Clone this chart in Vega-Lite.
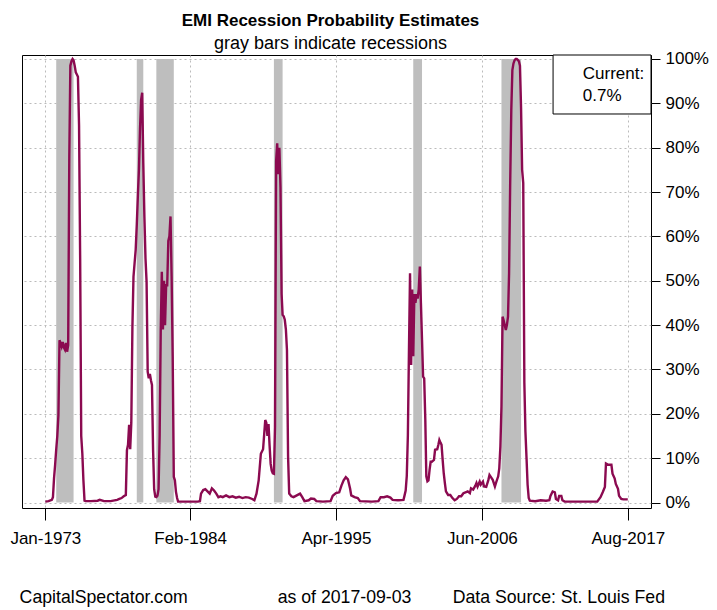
{
  "$schema": "https://vega.github.io/schema/vega-lite/v6.json",
  "autosize": "none",
  "width": 629,
  "height": 453,
  "padding": {"left": 22, "top": 55, "right": 66, "bottom": 102},
  "background": "white",
  "config": {
    "font": "Liberation Sans",
    "view": {"stroke": "black", "strokeWidth": 1}
  },
  "title": {
    "text": "EMI Recession Probability Estimates",
    "subtitle": "gray bars indicate recessions",
    "fontSize": 17,
    "fontWeight": "bold",
    "subtitleFontSize": 18,
    "color": "black",
    "subtitleColor": "black",
    "font": "Liberation Sans",
    "subtitleFont": "Liberation Sans",
    "anchor": "middle",
    "dx": -6,
    "offset": -4,
    "subtitlePadding": 5
  },
  "datasets": {
    "emi": [
      {"date": "1973-01-01", "p": 0.002}, {"date": "1973-04-01", "p": 0.003}, {"date": "1973-07-01", "p": 0.006},
      {"date": "1973-08-01", "p": 0.012}, {"date": "1973-09-01", "p": 0.055}, {"date": "1973-10-01", "p": 0.085},
      {"date": "1973-11-01", "p": 0.12}, {"date": "1973-12-01", "p": 0.15}, {"date": "1974-01-01", "p": 0.197},
      {"date": "1974-02-01", "p": 0.366}, {"date": "1974-03-01", "p": 0.36}, {"date": "1974-04-01", "p": 0.352},
      {"date": "1974-05-01", "p": 0.362}, {"date": "1974-06-01", "p": 0.35}, {"date": "1974-07-01", "p": 0.345},
      {"date": "1974-08-01", "p": 0.36}, {"date": "1974-09-01", "p": 0.34}, {"date": "1974-10-01", "p": 0.355},
      {"date": "1974-11-01", "p": 0.776}, {"date": "1974-12-01", "p": 0.985}, {"date": "1975-01-01", "p": 0.995},
      {"date": "1975-02-01", "p": 1.0}, {"date": "1975-03-01", "p": 0.997}, {"date": "1975-04-01", "p": 0.985},
      {"date": "1975-05-01", "p": 0.97}, {"date": "1975-06-01", "p": 0.965}, {"date": "1975-07-01", "p": 0.96},
      {"date": "1975-08-01", "p": 0.85}, {"date": "1975-09-01", "p": 0.55}, {"date": "1975-10-01", "p": 0.15},
      {"date": "1975-11-01", "p": 0.11}, {"date": "1975-12-01", "p": 0.05}, {"date": "1976-01-01", "p": 0.004},
      {"date": "1976-02-01", "p": 0.003}, {"date": "1976-07-01", "p": 0.003}, {"date": "1977-01-01", "p": 0.004},
      {"date": "1977-03-01", "p": 0.006}, {"date": "1977-07-01", "p": 0.003}, {"date": "1978-01-01", "p": 0.003},
      {"date": "1978-07-01", "p": 0.006}, {"date": "1978-09-01", "p": 0.008}, {"date": "1978-11-01", "p": 0.01},
      {"date": "1979-01-01", "p": 0.014}, {"date": "1979-03-01", "p": 0.017}, {"date": "1979-04-01", "p": 0.118},
      {"date": "1979-05-01", "p": 0.13}, {"date": "1979-06-01", "p": 0.175}, {"date": "1979-07-01", "p": 0.12},
      {"date": "1979-08-01", "p": 0.18}, {"date": "1979-09-01", "p": 0.396}, {"date": "1979-10-01", "p": 0.509},
      {"date": "1979-11-01", "p": 0.54}, {"date": "1979-12-01", "p": 0.569}, {"date": "1980-01-01", "p": 0.626},
      {"date": "1980-02-01", "p": 0.693}, {"date": "1980-03-01", "p": 0.75}, {"date": "1980-04-01", "p": 0.844},
      {"date": "1980-05-01", "p": 0.908}, {"date": "1980-06-01", "p": 0.924}, {"date": "1980-07-01", "p": 0.765},
      {"date": "1980-08-01", "p": 0.644}, {"date": "1980-09-01", "p": 0.55}, {"date": "1980-10-01", "p": 0.498},
      {"date": "1980-11-01", "p": 0.295}, {"date": "1980-12-01", "p": 0.28}, {"date": "1981-01-01", "p": 0.29},
      {"date": "1981-02-01", "p": 0.275}, {"date": "1981-03-01", "p": 0.265}, {"date": "1981-04-01", "p": 0.118},
      {"date": "1981-05-01", "p": 0.03}, {"date": "1981-06-01", "p": 0.013}, {"date": "1981-07-01", "p": 0.012},
      {"date": "1981-08-01", "p": 0.015}, {"date": "1981-09-01", "p": 0.03}, {"date": "1981-10-01", "p": 0.15},
      {"date": "1981-11-01", "p": 0.389}, {"date": "1981-12-01", "p": 0.52}, {"date": "1982-01-01", "p": 0.39},
      {"date": "1982-02-01", "p": 0.5}, {"date": "1982-03-01", "p": 0.4}, {"date": "1982-04-01", "p": 0.49},
      {"date": "1982-05-01", "p": 0.49}, {"date": "1982-06-01", "p": 0.59}, {"date": "1982-07-01", "p": 0.6},
      {"date": "1982-08-01", "p": 0.645}, {"date": "1982-09-01", "p": 0.51}, {"date": "1982-10-01", "p": 0.329},
      {"date": "1982-11-01", "p": 0.058}, {"date": "1982-12-01", "p": 0.05}, {"date": "1983-01-01", "p": 0.024},
      {"date": "1983-02-01", "p": 0.01}, {"date": "1983-03-01", "p": 0.002}, {"date": "1983-11-01", "p": 0.002},
      {"date": "1984-09-01", "p": 0.002}, {"date": "1984-11-01", "p": 0.003}, {"date": "1984-12-01", "p": 0.02},
      {"date": "1985-02-01", "p": 0.028}, {"date": "1985-04-01", "p": 0.03}, {"date": "1985-06-01", "p": 0.025},
      {"date": "1985-08-01", "p": 0.02}, {"date": "1985-10-01", "p": 0.032}, {"date": "1985-12-01", "p": 0.027},
      {"date": "1986-02-01", "p": 0.02}, {"date": "1986-04-01", "p": 0.012}, {"date": "1986-06-01", "p": 0.014},
      {"date": "1986-08-01", "p": 0.012}, {"date": "1986-11-01", "p": 0.016}, {"date": "1987-02-01", "p": 0.012},
      {"date": "1987-05-01", "p": 0.014}, {"date": "1987-08-01", "p": 0.011}, {"date": "1987-11-01", "p": 0.013},
      {"date": "1988-02-01", "p": 0.01}, {"date": "1988-05-01", "p": 0.012}, {"date": "1988-08-01", "p": 0.011},
      {"date": "1988-11-01", "p": 0.008}, {"date": "1989-01-01", "p": 0.005}, {"date": "1989-03-01", "p": 0.02},
      {"date": "1989-05-01", "p": 0.05}, {"date": "1989-07-01", "p": 0.11}, {"date": "1989-09-01", "p": 0.12},
      {"date": "1989-11-01", "p": 0.186}, {"date": "1989-12-01", "p": 0.18}, {"date": "1990-01-01", "p": 0.15},
      {"date": "1990-02-01", "p": 0.177}, {"date": "1990-03-01", "p": 0.13}, {"date": "1990-04-01", "p": 0.087},
      {"date": "1990-05-01", "p": 0.072}, {"date": "1990-06-01", "p": 0.066}, {"date": "1990-07-01", "p": 0.065},
      {"date": "1990-08-01", "p": 0.17}, {"date": "1990-09-01", "p": 0.77}, {"date": "1990-10-01", "p": 0.81},
      {"date": "1990-11-01", "p": 0.74}, {"date": "1990-12-01", "p": 0.8}, {"date": "1991-01-01", "p": 0.71},
      {"date": "1991-02-01", "p": 0.47}, {"date": "1991-03-01", "p": 0.423}, {"date": "1991-04-01", "p": 0.42},
      {"date": "1991-05-01", "p": 0.412}, {"date": "1991-06-01", "p": 0.39}, {"date": "1991-07-01", "p": 0.344},
      {"date": "1991-08-01", "p": 0.104}, {"date": "1991-09-01", "p": 0.02}, {"date": "1991-11-01", "p": 0.014},
      {"date": "1992-01-01", "p": 0.012}, {"date": "1992-04-01", "p": 0.016}, {"date": "1992-07-01", "p": 0.02},
      {"date": "1992-09-01", "p": 0.012}, {"date": "1992-11-01", "p": 0.003}, {"date": "1993-03-01", "p": 0.005},
      {"date": "1993-05-01", "p": 0.009}, {"date": "1993-08-01", "p": 0.008}, {"date": "1993-10-01", "p": 0.003},
      {"date": "1994-04-01", "p": 0.002}, {"date": "1994-11-01", "p": 0.003}, {"date": "1995-01-01", "p": 0.015},
      {"date": "1995-04-01", "p": 0.021}, {"date": "1995-07-01", "p": 0.023}, {"date": "1995-09-01", "p": 0.038},
      {"date": "1995-11-01", "p": 0.05}, {"date": "1996-01-01", "p": 0.057}, {"date": "1996-03-01", "p": 0.052},
      {"date": "1996-05-01", "p": 0.031}, {"date": "1996-06-01", "p": 0.016}, {"date": "1996-09-01", "p": 0.012},
      {"date": "1996-12-01", "p": 0.01}, {"date": "1997-02-01", "p": 0.003}, {"date": "1998-01-01", "p": 0.002},
      {"date": "1998-07-01", "p": 0.003}, {"date": "1998-09-01", "p": 0.012}, {"date": "1998-12-01", "p": 0.012},
      {"date": "1999-03-01", "p": 0.014}, {"date": "1999-06-01", "p": 0.011}, {"date": "1999-08-01", "p": 0.006},
      {"date": "2000-01-01", "p": 0.005}, {"date": "2000-06-01", "p": 0.006}, {"date": "2000-07-01", "p": 0.016},
      {"date": "2000-08-01", "p": 0.027}, {"date": "2000-09-01", "p": 0.06}, {"date": "2000-10-01", "p": 0.15},
      {"date": "2000-11-01", "p": 0.344}, {"date": "2000-12-01", "p": 0.517}, {"date": "2001-01-01", "p": 0.31},
      {"date": "2001-02-01", "p": 0.48}, {"date": "2001-03-01", "p": 0.33}, {"date": "2001-04-01", "p": 0.47},
      {"date": "2001-05-01", "p": 0.45}, {"date": "2001-06-01", "p": 0.47}, {"date": "2001-07-01", "p": 0.46},
      {"date": "2001-08-01", "p": 0.48}, {"date": "2001-09-01", "p": 0.532}, {"date": "2001-10-01", "p": 0.45},
      {"date": "2001-11-01", "p": 0.367}, {"date": "2001-12-01", "p": 0.284}, {"date": "2002-01-01", "p": 0.28},
      {"date": "2002-02-01", "p": 0.186}, {"date": "2002-03-01", "p": 0.059}, {"date": "2002-04-01", "p": 0.048},
      {"date": "2002-05-01", "p": 0.05}, {"date": "2002-06-01", "p": 0.074}, {"date": "2002-07-01", "p": 0.092},
      {"date": "2002-08-01", "p": 0.092}, {"date": "2002-10-01", "p": 0.096}, {"date": "2002-11-01", "p": 0.119},
      {"date": "2003-01-01", "p": 0.12}, {"date": "2003-02-01", "p": 0.13}, {"date": "2003-03-01", "p": 0.141},
      {"date": "2003-04-01", "p": 0.135}, {"date": "2003-05-01", "p": 0.13}, {"date": "2003-06-01", "p": 0.096},
      {"date": "2003-07-01", "p": 0.066}, {"date": "2003-08-01", "p": 0.044}, {"date": "2003-09-01", "p": 0.025},
      {"date": "2003-11-01", "p": 0.017}, {"date": "2004-01-01", "p": 0.017}, {"date": "2004-03-01", "p": 0.01},
      {"date": "2004-05-01", "p": 0.005}, {"date": "2004-07-01", "p": 0.008}, {"date": "2004-09-01", "p": 0.014},
      {"date": "2004-11-01", "p": 0.014}, {"date": "2005-01-01", "p": 0.021}, {"date": "2005-03-01", "p": 0.023},
      {"date": "2005-05-01", "p": 0.025}, {"date": "2005-07-01", "p": 0.021}, {"date": "2005-08-01", "p": 0.032},
      {"date": "2005-10-01", "p": 0.029}, {"date": "2005-12-01", "p": 0.038}, {"date": "2006-01-01", "p": 0.044},
      {"date": "2006-02-01", "p": 0.036}, {"date": "2006-04-01", "p": 0.047}, {"date": "2006-05-01", "p": 0.04},
      {"date": "2006-07-01", "p": 0.047}, {"date": "2006-08-01", "p": 0.036}, {"date": "2006-10-01", "p": 0.035},
      {"date": "2006-12-01", "p": 0.051}, {"date": "2007-01-01", "p": 0.062}, {"date": "2007-03-01", "p": 0.055},
      {"date": "2007-04-01", "p": 0.051}, {"date": "2007-06-01", "p": 0.036}, {"date": "2007-07-01", "p": 0.044},
      {"date": "2007-09-01", "p": 0.059}, {"date": "2007-10-01", "p": 0.077}, {"date": "2007-11-01", "p": 0.126},
      {"date": "2007-12-01", "p": 0.216}, {"date": "2008-01-01", "p": 0.419}, {"date": "2008-02-01", "p": 0.41},
      {"date": "2008-03-01", "p": 0.4}, {"date": "2008-04-01", "p": 0.389}, {"date": "2008-05-01", "p": 0.4},
      {"date": "2008-06-01", "p": 0.419}, {"date": "2008-07-01", "p": 0.517}, {"date": "2008-08-01", "p": 0.72},
      {"date": "2008-09-01", "p": 0.885}, {"date": "2008-10-01", "p": 0.975}, {"date": "2008-11-01", "p": 0.99},
      {"date": "2008-12-01", "p": 0.997}, {"date": "2009-01-01", "p": 1.0}, {"date": "2009-02-01", "p": 1.0},
      {"date": "2009-03-01", "p": 0.998}, {"date": "2009-04-01", "p": 0.995}, {"date": "2009-05-01", "p": 0.985},
      {"date": "2009-06-01", "p": 0.89}, {"date": "2009-07-01", "p": 0.75}, {"date": "2009-08-01", "p": 0.72},
      {"date": "2009-09-01", "p": 0.27}, {"date": "2009-10-01", "p": 0.16}, {"date": "2009-11-01", "p": 0.1},
      {"date": "2009-12-01", "p": 0.04}, {"date": "2010-01-01", "p": 0.01}, {"date": "2010-02-01", "p": 0.004},
      {"date": "2010-07-01", "p": 0.003}, {"date": "2010-12-01", "p": 0.005}, {"date": "2011-05-01", "p": 0.004},
      {"date": "2011-08-01", "p": 0.005}, {"date": "2011-09-01", "p": 0.015}, {"date": "2011-11-01", "p": 0.025},
      {"date": "2012-01-01", "p": 0.023}, {"date": "2012-02-01", "p": 0.008}, {"date": "2012-04-01", "p": 0.005},
      {"date": "2012-05-01", "p": 0.015}, {"date": "2012-07-01", "p": 0.015}, {"date": "2012-08-01", "p": 0.005},
      {"date": "2012-10-01", "p": 0.002}, {"date": "2013-11-01", "p": 0.002}, {"date": "2014-09-01", "p": 0.002},
      {"date": "2015-04-01", "p": 0.002}, {"date": "2015-07-01", "p": 0.012}, {"date": "2015-09-01", "p": 0.023},
      {"date": "2015-11-01", "p": 0.035}, {"date": "2015-12-01", "p": 0.088}, {"date": "2016-02-01", "p": 0.085},
      {"date": "2016-05-01", "p": 0.085}, {"date": "2016-06-01", "p": 0.065}, {"date": "2016-08-01", "p": 0.054},
      {"date": "2016-09-01", "p": 0.042}, {"date": "2016-11-01", "p": 0.031}, {"date": "2016-12-01", "p": 0.015},
      {"date": "2017-02-01", "p": 0.008}, {"date": "2017-04-01", "p": 0.007}, {"date": "2017-08-01", "p": 0.007}
    ],
    "recessions": [
      {"start": "1973-11-01", "end": "1975-03-01"},
      {"start": "1980-01-01", "end": "1980-07-01"},
      {"start": "1981-07-01", "end": "1982-11-01"},
      {"start": "1990-07-01", "end": "1991-03-01"},
      {"start": "2001-03-01", "end": "2001-11-01"},
      {"start": "2007-12-01", "end": "2009-06-01"}
    ],
    "notes": [
      {"current": "Current:", "value": "0.7%", "site": "CapitalSpectator.com", "asof": "as of 2017-09-03", "source": "Data Source: St. Louis Fed"}
    ]
  },
  "layer": [
    {
      "data": {"name": "recessions"},
      "mark": {"type": "rect", "color": "#BEBEBE", "stroke": null},
      "encoding": {
        "x": {"field": "start", "type": "temporal",
              "scale": {"type": "utc", "domain": [{"year": 1971, "month": 3, "date": 20, "utc": true}, {"year": 2019, "month": 5, "date": 13, "utc": true}]},
              "axis": {
                "title": null,
                "values": [
                  {"year": 1973, "month": 1, "date": 1, "utc": true},
                  {"year": 1984, "month": 2, "date": 1, "utc": true},
                  {"year": 1995, "month": 4, "date": 1, "utc": true},
                  {"year": 2006, "month": 6, "date": 1, "utc": true},
                  {"year": 2017, "month": 8, "date": 1, "utc": true}
                ],
                "labelExpr": "utcFormat(datum.value, '%b-%Y')",
                "domain": false,
                "ticks": true,
                "tickColor": "black",
                "tickSize": 12,
                "labelPadding": 10,
                "labelFontSize": 17,
                "labelColor": "black",
                "labelFont": "Liberation Sans",
                "labelFlush": false,
                "labelOverlap": false,
                "grid": true,
                "gridColor": "#BBBBBB",
                "gridDash": [2, 3],
                "gridWidth": 1
              }},
        "x2": {"field": "end"},
        "y": {"datum": 0, "type": "quantitative",
              "scale": {"domain": [-0.0124, 1.009], "nice": false, "zero": false},
              "axis": {
                "title": null,
                "orient": "right",
                "values": [0, 0.1, 0.2, 0.3, 0.4, 0.5, 0.6, 0.7, 0.8, 0.9, 1.0],
                "format": ".0%",
                "domain": false,
                "tickColor": "black",
                "tickSize": 9,
                "labelPadding": 5,
                "labelFontSize": 17,
                "labelColor": "black",
                "labelFont": "Liberation Sans",
                "labelFlush": false,
                "labelOverlap": false,
                "grid": true,
                "gridColor": "#BBBBBB",
                "gridDash": [2, 3],
                "gridWidth": 1
              }},
        "y2": {"datum": 1}
      }
    },
    {
      "data": {"name": "emi"},
      "mark": {"type": "line", "color": "#8B0A50", "strokeWidth": 2.4},
      "encoding": {
        "x": {"field": "date", "type": "temporal"},
        "y": {"field": "p", "type": "quantitative"}
      }
    },
    {
      "data": {"name": "notes"},
      "mark": {"type": "rect", "fill": "white", "stroke": "black", "strokeWidth": 1},
      "encoding": {
        "x": {"datum": {"year": 2011, "month": 11, "date": 13, "utc": true}, "type": "temporal"},
        "x2": {"datum": {"year": 2019, "month": 5, "date": 13, "utc": true}},
        "y": {"datum": 0.876, "type": "quantitative"},
        "y2": {"datum": 1.009}
      }
    },
    {
      "data": {"name": "notes"},
      "mark": {"type": "text", "align": "left", "baseline": "middle", "fontSize": 17, "font": "Liberation Sans", "color": "black"},
      "encoding": {
        "x": {"datum": {"year": 2014, "month": 2, "date": 20, "utc": true}, "type": "temporal"},
        "y": {"datum": 0.966, "type": "quantitative"},
        "text": {"field": "current"}
      }
    },
    {
      "data": {"name": "notes"},
      "mark": {"type": "text", "align": "left", "baseline": "middle", "fontSize": 17, "font": "Liberation Sans", "color": "black"},
      "encoding": {
        "x": {"datum": {"year": 2014, "month": 2, "date": 20, "utc": true}, "type": "temporal"},
        "y": {"datum": 0.917, "type": "quantitative"},
        "text": {"field": "value"}
      }
    },
    {
      "data": {"name": "notes"},
      "mark": {"type": "text", "align": "left", "baseline": "middle", "fontSize": 17.7, "font": "Liberation Sans", "color": "black"},
      "encoding": {
        "x": {"datum": {"year": 1971, "month": 1, "date": 12, "utc": true}, "type": "temporal"},
        "y": {"datum": -0.215, "type": "quantitative"},
        "text": {"field": "site"}
      }
    },
    {
      "data": {"name": "notes"},
      "mark": {"type": "text", "align": "left", "baseline": "middle", "fontSize": 17.7, "font": "Liberation Sans", "color": "black"},
      "encoding": {
        "x": {"datum": {"year": 1990, "month": 10, "date": 13, "utc": true}, "type": "temporal"},
        "y": {"datum": -0.215, "type": "quantitative"},
        "text": {"field": "asof"}
      }
    },
    {
      "data": {"name": "notes"},
      "mark": {"type": "text", "align": "left", "baseline": "middle", "fontSize": 17.7, "font": "Liberation Sans", "color": "black"},
      "encoding": {
        "x": {"datum": {"year": 2004, "month": 3, "date": 7, "utc": true}, "type": "temporal"},
        "y": {"datum": -0.215, "type": "quantitative"},
        "text": {"field": "source"}
      }
    }
  ]
}
